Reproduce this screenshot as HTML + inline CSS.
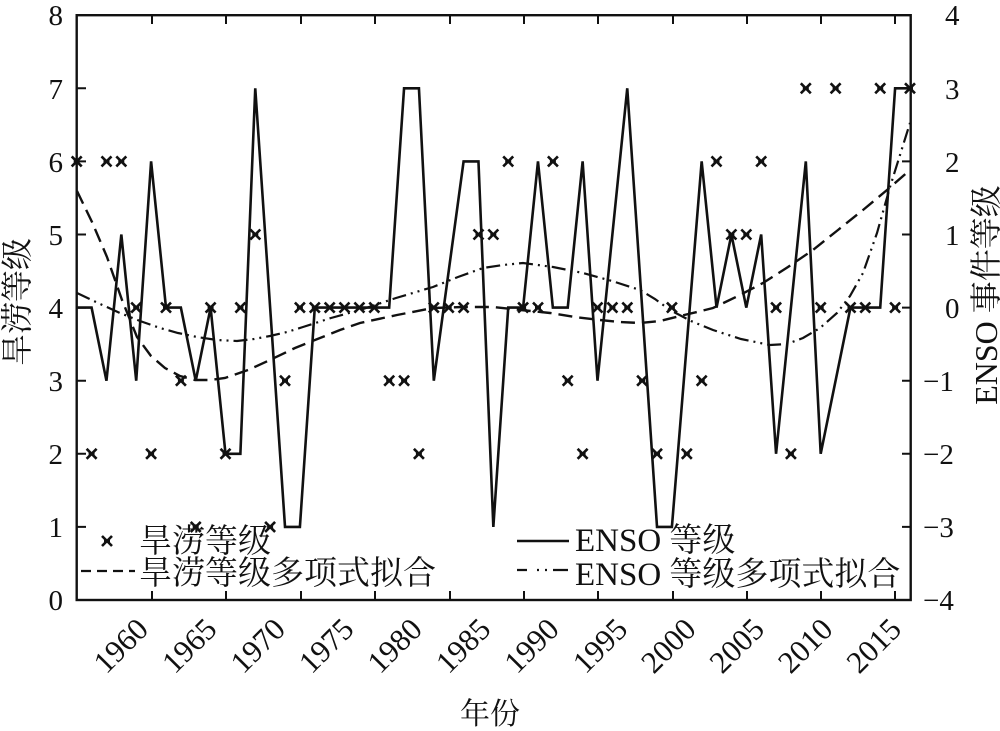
<!DOCTYPE html>
<html><head><meta charset="utf-8"><style>
html,body{margin:0;padding:0;background:#fff;}
svg{display:block;}
text{font-family:"Liberation Serif","Noto Serif CJK SC",serif;fill:#111;}
.cj{font-family:"Liberation Serif","Noto Serif CJK SC","Noto Sans CJK SC",serif;}
</style></head><body>
<svg width="1000" height="731" viewBox="0 0 1000 731" xmlns="http://www.w3.org/2000/svg">
<defs>
<path id="m" d="M-5,-5L5,5M-5,5L5,-5M-3,0L3,0" stroke="#111" stroke-width="2.6" fill="none"/>
</defs>
<rect x="76.7" y="15.2" width="834" height="584.8" fill="none" stroke="#111" stroke-width="2.4"/>
<g stroke="#111" stroke-width="2">
<path d="M152,600v-9M226,600v-9M301,600v-9M375,600v-9M450,600v-9M524,600v-9M598,600v-9M673,600v-9M747,600v-9M821,600v-9M895,600v-9"/>
<path d="M152,15v9M226,15v9M301,15v9M375,15v9M450,15v9M524,15v9M598,15v9M673,15v9M747,15v9M821,15v9M895,15v9"/>
<path d="M77,526.9h9M77,453.8h9M77,380.7h9M77,307.6h9M77,234.5h9M77,161.4h9M77,88.3h9"/>
<path d="M911,526.9h-9M911,453.8h-9M911,380.7h-9M911,307.6h-9M911,234.5h-9M911,161.4h-9M911,88.3h-9"/>
</g>
<g font-size="29" text-anchor="end">
<text x="63" y="610">0</text><text x="63" y="537">1</text><text x="63" y="464">2</text><text x="63" y="391">3</text><text x="63" y="318">4</text><text x="63" y="245">5</text><text x="63" y="172">6</text><text x="63" y="99">7</text><text x="63" y="25">8</text>
</g>
<g font-size="29" text-anchor="start">
<text x="923" y="610">−4</text><text x="923" y="537">−3</text><text x="923" y="464">−2</text><text x="923" y="391">−1</text><text x="945" y="318">0</text><text x="945" y="245">1</text><text x="945" y="172">2</text><text x="945" y="99">3</text><text x="945" y="25">4</text>
</g>
<g font-size="31" text-anchor="end">
<text transform="translate(150,631) rotate(-45)">1960</text>
<text transform="translate(218.5,631) rotate(-45)">1965</text>
<text transform="translate(287,631) rotate(-45)">1970</text>
<text transform="translate(355.4,631) rotate(-45)">1975</text>
<text transform="translate(423.8,631) rotate(-45)">1980</text>
<text transform="translate(492.3,631) rotate(-45)">1985</text>
<text transform="translate(560.7,631) rotate(-45)">1990</text>
<text transform="translate(629.2,631) rotate(-45)">1995</text>
<text transform="translate(697.6,631) rotate(-45)">2000</text>
<text transform="translate(766,631) rotate(-45)">2005</text>
<text transform="translate(834.5,631) rotate(-45)">2010</text>
<text transform="translate(903,631) rotate(-45)">2015</text>
</g>
<text class="cj" x="490" y="724" font-size="30" text-anchor="middle">年份</text>
<text class="cj" font-size="32" text-anchor="middle" transform="translate(28,302) rotate(-90)">旱涝等级</text>
<text class="cj" font-size="32" text-anchor="middle" transform="translate(997,295) rotate(-90)">ENSO 事件等级</text>
<g transform="translate(76.7,600) scale(14.88,-73.1)">
<polyline fill="none" stroke="#111" stroke-width="2.6" vector-effect="non-scaling-stroke" stroke-linejoin="miter" points="0,4 1,4 2,3 3,5 4,3 5,6 6,4 7,4 8,3 9,4 10,2 11,2 12,7 13,4 14,1 15,1 16,4 17,4 18,4 19,4 20,4 21,4 22,7 23,7 24,3 25,4.5 26,6 27,6 28,1 29,4 30,4 31,6 32,4 33,4 34,6 35,3 36,5 37,7 38,4 39,1 40,1 41,3.5 42,6 43,4 44,5 45,4 46,5 47,2 48,4 49,6 50,2 51,3 52,4 53,4 54,4 55,7 56,7"/>
</g>
<polyline fill="none" stroke="#111" stroke-width="2.4" stroke-dasharray="14,7" points="77,191 92,222 107,257 122,300 137,337 151,356 165,368 180,376 195,380 210,380 225,378 248,370 270,360 295,348 320,338 340,330 360,323 397,315 433,308 463,307 493,307 521,310 550,313 575,317 600,320 620,322 640,323 660,321 680,316 697,312 713,308 738,296 763,283 788,267 813,250 838,230 863,210 887,190 910,170"/>
<polyline fill="none" stroke="#111" stroke-width="2.2" stroke-dasharray="14,5,2,5,2,5" points="77,293 98,303 120,313 140,321 160,328 178,333 197,337 217,340 237,341 254,339 270,336 287,332 303,327 331,318 360,310 396,298 433,287 458,277 483,268 503,265 523,263 553,267 583,273 612,281 640,290 655,299 670,310 691,321 713,330 741,339 770,345 787,344 803,338 820,328 837,313 850,296 863,273 877,233 890,187 900,155 910,123"/>
<g>
<use href="#m" x="76.7" y="161.4"/><use href="#m" x="91.6" y="453.8"/><use href="#m" x="106.5" y="161.4"/><use href="#m" x="121.3" y="161.4"/><use href="#m" x="136.2" y="307.6"/><use href="#m" x="151.1" y="453.8"/><use href="#m" x="166" y="307.6"/><use href="#m" x="180.9" y="380.7"/><use href="#m" x="195.7" y="526.9"/><use href="#m" x="210.6" y="307.6"/><use href="#m" x="225.5" y="453.8"/><use href="#m" x="240.4" y="307.6"/><use href="#m" x="255.3" y="234.5"/><use href="#m" x="270.1" y="526.9"/><use href="#m" x="285" y="380.7"/><use href="#m" x="299.9" y="307.6"/><use href="#m" x="314.8" y="307.6"/><use href="#m" x="329.7" y="307.6"/><use href="#m" x="344.5" y="307.6"/><use href="#m" x="359.4" y="307.6"/><use href="#m" x="374.3" y="307.6"/><use href="#m" x="389.2" y="380.7"/><use href="#m" x="404.1" y="380.7"/><use href="#m" x="418.9" y="453.8"/><use href="#m" x="433.8" y="307.6"/><use href="#m" x="448.7" y="307.6"/><use href="#m" x="463.6" y="307.6"/><use href="#m" x="478.5" y="234.5"/><use href="#m" x="493.3" y="234.5"/><use href="#m" x="508.2" y="161.4"/><use href="#m" x="523.1" y="307.6"/><use href="#m" x="538" y="307.6"/><use href="#m" x="552.9" y="161.4"/><use href="#m" x="567.7" y="380.7"/><use href="#m" x="582.6" y="453.8"/><use href="#m" x="597.5" y="307.6"/><use href="#m" x="612.4" y="307.6"/><use href="#m" x="627.3" y="307.6"/><use href="#m" x="642.1" y="380.7"/><use href="#m" x="657" y="453.8"/><use href="#m" x="671.9" y="307.6"/><use href="#m" x="686.8" y="453.8"/><use href="#m" x="701.7" y="380.7"/><use href="#m" x="716.5" y="161.4"/><use href="#m" x="731.4" y="234.5"/><use href="#m" x="746.3" y="234.5"/><use href="#m" x="761.2" y="161.4"/><use href="#m" x="776.1" y="307.6"/><use href="#m" x="790.9" y="453.8"/><use href="#m" x="805.8" y="88.3"/><use href="#m" x="820.7" y="307.6"/><use href="#m" x="835.6" y="88.3"/><use href="#m" x="850.5" y="307.6"/><use href="#m" x="865.3" y="307.6"/><use href="#m" x="880.2" y="88.3"/><use href="#m" x="895.1" y="307.6"/><use href="#m" x="910" y="88.3"/>
</g>
<use href="#m" x="107" y="541"/>
<text class="cj" x="139" y="552" font-size="33">旱涝等级</text>
<path d="M81,571H135" stroke="#111" stroke-width="2.2" stroke-dasharray="10,6"/>
<text class="cj" x="139" y="584" font-size="33">旱涝等级多项式拟合</text>
<path d="M517,541H569" stroke="#111" stroke-width="2.4"/>
<text class="cj" x="575" y="551" font-size="33">ENSO 等级</text>
<path d="M517,570H527M537,570h2M545,570h2M553,570H568" stroke="#111" stroke-width="2.2"/>
<text class="cj" x="575" y="585" font-size="33">ENSO 等级多项式拟合</text>
</svg>
</body></html>
